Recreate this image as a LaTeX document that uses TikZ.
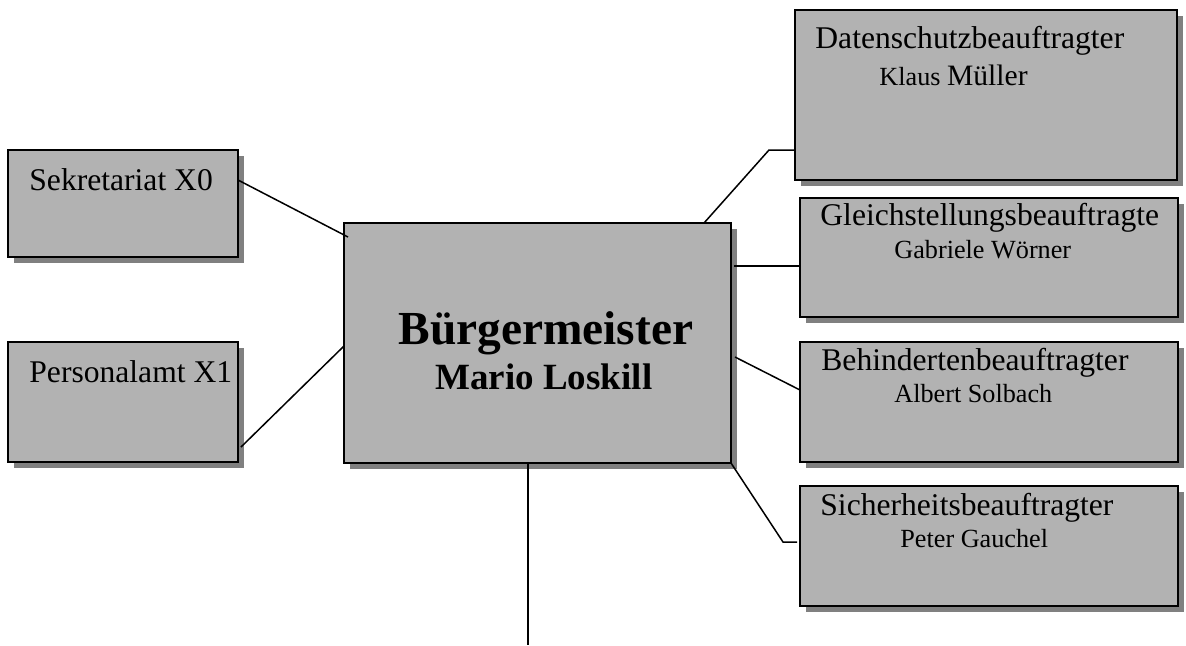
\documentclass[tikz,border=0pt]{standalone}
\usepackage{fontspec}
\setmainfont{Liberation Serif}
\usetikzlibrary{calc,shadows}
\definecolor{boxgray}{RGB}{178,178,178}
\definecolor{shadowgray}{RGB}{128,128,128}
\tikzset{
  orgbox/.style={draw=black, line width=1pt, fill=boxgray, inner sep=0pt, outer sep=0pt,
    anchor=north west,
    drop shadow={shadow xshift=3pt, shadow yshift=-3pt, fill=shadowgray, opacity=1}},
  conn/.style={draw=black, line width=0.75pt},
  ttl/.style={anchor=base west, inner sep=0pt, font=\fontsize{15.8}{18}\selectfont},
  nm/.style={anchor=base west, inner sep=0pt, font=\fontsize{13.1}{15}\selectfont},
}
\begin{document}
\begin{tikzpicture}[x=0.5pt, y=-0.5pt]
\useasboundingbox (0,0) rectangle (1186,645);
% boxes
\node[orgbox, minimum width=115pt, minimum height=53.5pt] (sek) at (8,150) {};
\node[orgbox, minimum width=115pt, minimum height=60pt] (pers) at (8,342) {};
\node[orgbox, minimum width=193.5pt, minimum height=120pt] (bgm) at (344,223) {};
\node[orgbox, minimum width=191pt, minimum height=85pt] (dat) at (795,10) {};
\node[orgbox, minimum width=189pt, minimum height=59.5pt] (gle) at (800,198) {};
\node[orgbox, minimum width=189pt, minimum height=60pt] (beh) at (800,342) {};
\node[orgbox, minimum width=189pt, minimum height=60pt] (sic) at (800,486) {};
% texts
\node[ttl] (tsek) at (29,190) {Sekretariat X0};
\node[ttl] (tpers) at (29,382) {Personalamt X1};
\node[ttl] (tdat) at (815,48) {Datenschutzbeauftragter};
\node[nm] (ndat) at (879,85) {Klaus {\fontsize{14.8}{16}\selectfont Müller}};
\node[ttl] (tgle) at (820,225) {Gleichstellungsbeauftragte};
\node[nm] (ngle) at (894,258) {Gabriele Wörner};
\node[ttl] (tbeh) at (821,370) {Behindertenbeauftragter};
\node[nm] (nbeh) at (894,402) {Albert Solbach};
\node[ttl] (tsic) at (820,515) {Sicherheitsbeauftragter};
\node[nm] (nsic) at (900,547) {Peter Gauchel};
\node[anchor=base west, inner sep=0pt, font=\fontsize{23.7}{27}\selectfont\bfseries] (tbgm) at (398,344) {Bürgermeister};
\node[anchor=base west, inner sep=0pt, font=\fontsize{18.5}{21}\selectfont\bfseries] (nbgm) at (435,389) {Mario Loskill};
% connectors
\coordinate (bottomend) at (528,645);
\draw[conn] ($(sek.north east)+(0,30)$) -- ($(bgm.north west)+(4,14)$);
\draw[conn] ($(pers.north east)+(3,105)$) -- ($(bgm.north west)+(0,123)$);
\draw[conn] ($(dat.north west)+(0,140)$) -- ++(-26,0) -- ($(bgm.north east)+(-27,0)$);
\draw[conn] ($(bgm.north east)+(3,43)$) -- ($(gle.north west)+(0,68)$);
\draw[conn] ($(bgm.north east)+(4,134)$) -- ($(beh.north west)+(0,48)$);
\draw[conn] (bgm.south east) -- ($(sic.north west)+(-17,56)$) -- ($(sic.north west)+(-3,56)$);
\draw[conn] ($(bgm.south west)+(184,0)$) -- (bottomend);
\end{tikzpicture}
\end{document}
